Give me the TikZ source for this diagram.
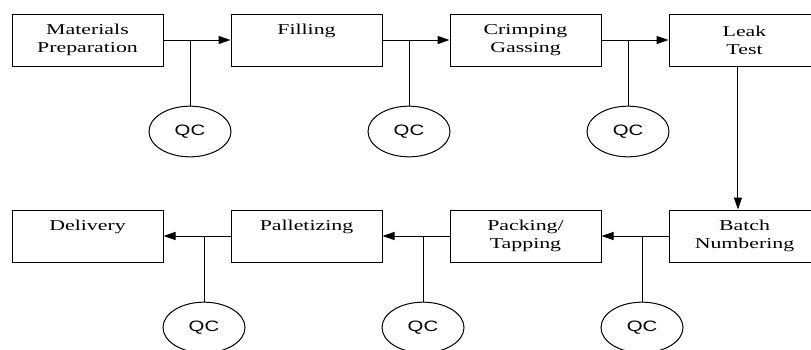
\documentclass[tikz,border=0pt]{standalone}
\usepackage{fontspec}
\setmainfont{Liberation Serif}[FakeStretch=1.45]
\newfontfamily\qcfont{Liberation Sans}[FakeStretch=1.35]
\usetikzlibrary{shapes.geometric,arrows.meta}
\begin{document}
\begin{tikzpicture}[x=0.75pt,y=-0.75pt,line width=0.75pt,
  box/.style={draw,rectangle,minimum width=113.25pt,minimum height=39pt,inner sep=0pt,align=center,font=\fontsize{11.3}{13.5}\selectfont,execute at begin node={\rule{0pt}{13.5pt}}},
  qc/.style={draw,ellipse,minimum width=61.5pt,minimum height=38pt,inner sep=0pt,font=\qcfont\fontsize{11.3}{13.5}\selectfont},
  arr/.style={-{Triangle[length=9pt,width=6pt]}}]
\clip (0,0) rectangle (811,350);
% process steps
\node[box] (1) at (87.5,40) {Materials\\Preparation};
\node[box] (2) at (306.5,40) {Filling\\\vphantom{p}};
\node[box] (3) at (525.5,40) {Crimping\\Gassing};
\node[box] (4) at (744.5,40) {Leak\\Test};
\node[box] (5) at (744.5,236) {Batch\\Numbering};
\node[box] (6) at (525.5,236) {Packing/\\Tapping};
\node[box] (7) at (306.5,236) {Palletizing\\\vphantom{p}};
\node[box] (8) at (87.5,236) {Delivery\\\vphantom{p}};
% quality checks
\node[qc] (q1) at (190,131.5) {QC};
\node[qc] (q2) at (409,131.5) {QC};
\node[qc] (q3) at (628,131.5) {QC};
\node[qc] (q4) at (642,327.5) {QC};
\node[qc] (q5) at (423,327.5) {QC};
\node[qc] (q6) at (204,327.5) {QC};
\coordinate (a1) at (190,40);
\coordinate (a2) at (409,40);
\coordinate (a3) at (628,40);
\coordinate (a4) at (642,236);
\coordinate (a5) at (423,236);
\coordinate (a6) at (204,236);
\path[draw,arr] (1) -- (2);
\path[draw,arr] (2) -- (3);
\path[draw,arr] (3) -- (4);
\path[draw,arr] ([xshift=-4.9pt]4.south) -- ([xshift=-4.9pt]5.north);
\path[draw,arr] (5) -- (6);
\path[draw,arr] (6) -- (7);
\path[draw,arr] (7) -- (8);
\path[draw] (a1) -- (q1);
\path[draw] (a2) -- (q2);
\path[draw] (a3) -- (q3);
\path[draw] (a4) -- (q4);
\path[draw] (a5) -- (q5);
\path[draw] (a6) -- (q6);
\end{tikzpicture}
\end{document}
